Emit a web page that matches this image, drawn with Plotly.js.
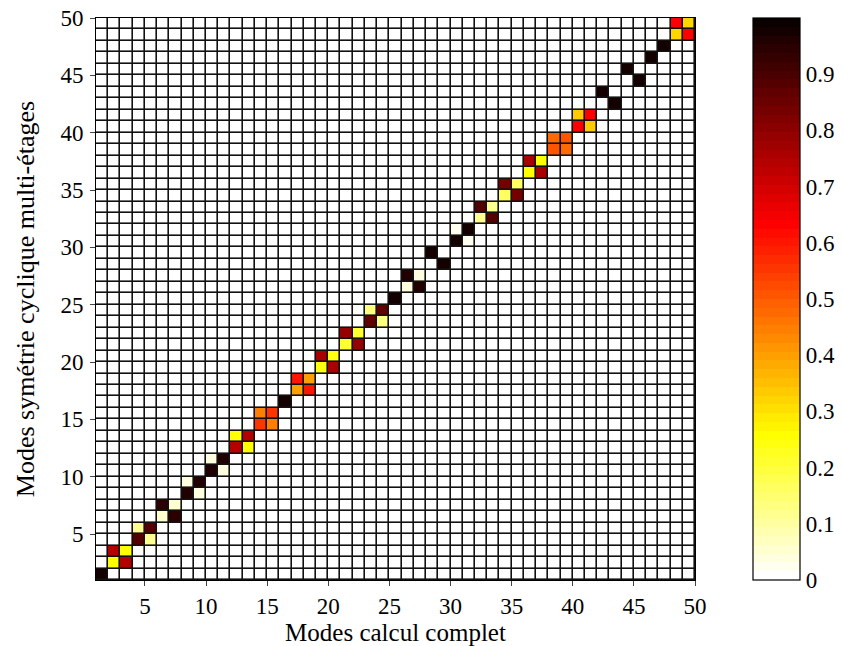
<!DOCTYPE html>
<html>
<head>
<meta charset="utf-8">
<script src="https://cdn.plot.ly/plotly-3.0.1.min.js"></script>
<style>
html,body{margin:0;padding:0;background:#fff;}
#chart{width:843px;height:646px;}
</style>
</head>
<body>
<div id="chart"></div>
<script>
// Number of modes shown (pcolor grid: 49 cells between edges 1..50)
const nModes = 49;
// Non-zero MAC entries: column = mode of full computation, row = mode of multi-stage cyclic symmetry
const macCol = [1, 2,3,2,3, 4,5,4,5, 6,7,6,7, 8,9,8,9, 10,11,10,11, 12,13,12,13, 14,15,14,15, 16,
  17,18,17,18, 19,20,19,20, 21,22,21,22, 23,24,23,24, 25, 26,27,26,27, 28,29,
  30,31,30,31, 32,33,32,33, 34,35,34,35, 36,37,36,37, 38,39,38,39, 40,41,40,41,
  42,43, 44,45, 46, 47, 48,49,48,49];
const macRow = [1, 2,2,3,3, 4,4,5,5, 6,6,7,7, 8,8,9,9, 10,10,11,11, 12,12,13,13, 14,14,15,15, 16,
  17,17,18,18, 19,19,20,20, 21,21,22,22, 23,23,24,24, 25, 26,26,27,27, 29,28,
  30,30,31,31, 32,32,33,33, 34,34,35,35, 36,36,37,37, 38,38,39,39, 40,40,41,41,
  43,42, 45,44, 46, 47, 48,48,49,49];
const macVal = [0.98, 0.26,0.74,0.74,0.26, 0.88,0.12,0.12,0.88, 0.05,0.94,0.94,0.05,
  0.96,0.04,0.04,0.96, 0.96,0.04,0.04,0.96, 0.74,0.26,0.26,0.74, 0.55,0.45,0.45,0.55, 0.98,
  0.40,0.60,0.60,0.40, 0.24,0.76,0.76,0.24, 0.21,0.79,0.79,0.21, 0.86,0.13,0.13,0.86, 0.98,
  0.04,0.96,0.96,0.04, 0.98,0.98,
  0.97,0.03,0.03,0.97, 0.11,0.88,0.88,0.11, 0.16,0.83,0.83,0.16, 0.25,0.75,0.75,0.25,
  0.50,0.48,0.48,0.50, 0.64,0.33,0.33,0.64, 0.98,0.98, 0.98,0.98, 0.98, 0.98,
  0.32,0.63,0.63,0.32];
const xTicks = [5,10,15,20,25,30,35,40,45,50];
const yTicks = [5,10,15,20,25,30,35,40,45,50];
const cbTicks = [0,0.1,0.2,0.3,0.4,0.5,0.6,0.7,0.8,0.9];
const cbLabels = ['0','0.1','0.2','0.3','0.4','0.5','0.6','0.7','0.8','0.9'];

// build matrix
const edges = [];
for (let i = 1; i <= nModes + 1; i++) edges.push(i);
const z = [];
for (let r = 0; r < nModes; r++) { const row = []; for (let c = 0; c < nModes; c++) row.push(0); z.push(row); }
for (let k = 0; k < macVal.length; k++) z[macRow[k]-1][macCol[k]-1] = macVal[k];

// flipped MATLAB 'hot(64)' colormap: level 0 = white ... level 63 = near black
const nLev = 64, nR = Math.floor(3 / 8 * nLev);
function hotColor(i) { // i = 1..64 (MATLAB index)
  const r = i <= nR ? i / nR : 1;
  const g = i <= nR ? 0 : (i <= 2 * nR ? (i - nR) / nR : 1);
  const b = i <= 2 * nR ? 0 : (i - 2 * nR) / (nLev - 2 * nR);
  return 'rgb(' + Math.round(r*255) + ',' + Math.round(g*255) + ',' + Math.round(b*255) + ')';
}
const cscale = [];
for (let j = 0; j < nLev; j++) {
  const col = hotColor(nLev - j);
  cscale.push([j / nLev, col]);
  cscale.push([(j + 1) / nLev, col]);
}

const font = 'Liberation Serif';
const trace = {
  type: 'heatmap', x: edges, y: edges, z: z,
  zmin: 0, zmax: 1, xgap: 1.6, ygap: 1.6,
  colorscale: cscale,
  hoverinfo: 'none',
  colorbar: {
    x: 1.097, xanchor: 'left', xref: 'paper', y: 0.5, yanchor: 'middle', len: 1, lenmode: 'fraction',
    thickness: 47, thicknessmode: 'pixels',
    outlinecolor: '#000', outlinewidth: 1.2,
    tickvals: cbTicks, ticktext: cbLabels,
    tickfont: {family: font, size: 23}, xpad: 0, ypad: 0
  }
};
const layout = {
  width: 843, height: 646,
  margin: {l: 96, r: 148, t: 18, b: 66},
  paper_bgcolor: '#fff', plot_bgcolor: '#111',
  font: {family: font, color: '#000', size: 23},
  xaxis: {range: [1,50], tickvals: xTicks, ticklabelstandoff: 0,
    tickfont: {size: 23, family: font}, showgrid: false, zeroline: false,
    showline: true, mirror: true, linecolor: '#000', linewidth: 1,
    title: {text: 'Modes calcul complet', font: {size: 25, family: font}, standoff: 6}},
  yaxis: {range: [1,50], tickvals: yTicks, ticklabelstandoff: 2,
    tickfont: {size: 23, family: font}, showgrid: false, zeroline: false,
    showline: true, mirror: true, linecolor: '#000', linewidth: 1,
    title: {text: 'Modes symétrie cyclique multi-étages', font: {size: 26, family: font}, standoff: 18}}
};
Plotly.newPlot('chart', [trace], layout, {displayModeBar: false, staticPlot: true});
</script>
</body>
</html>
